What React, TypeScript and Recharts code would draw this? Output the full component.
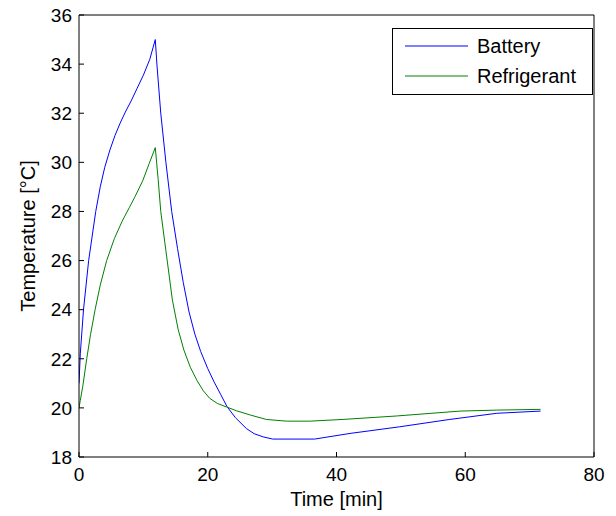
import React from 'react';
import { LineChart, Line, XAxis, YAxis, Legend } from 'recharts';

// Battery and refrigerant temperature
const batteryTime = [0, 0.2, 0.7, 1.5, 2.6, 3.3, 4.0, 4.8, 5.6, 6.4, 7.2, 8.1, 9.0, 10.0, 11.0, 11.85, 12.1, 12.7, 13.5, 14.4, 15.3, 16.2, 17.1, 18.0, 18.9, 20.0, 21.0, 22.0, 23.0, 24.3, 26.0, 27.2, 28.6, 30.1, 36.6, 42.1, 49.8, 57.6, 64.9, 71.7];
const batteryTemp = [21.0, 22.2, 24.0, 26.0, 28.0, 29.0, 29.8, 30.5, 31.1, 31.6, 32.05, 32.5, 33.0, 33.55, 34.2, 35.0, 34.0, 32.0, 30.0, 28.0, 26.5, 25.1, 23.9, 23.0, 22.3, 21.6, 21.05, 20.55, 20.05, 19.6, 19.16, 18.95, 18.82, 18.73, 18.73, 18.96, 19.23, 19.53, 19.78, 19.87];

const refrigerantTime = [0, 0.2, 0.6, 1.2, 1.8, 2.5, 3.3, 4.3, 5.5, 6.7, 7.8, 8.7, 9.9, 10.9, 11.85, 12.3, 12.7, 13.5, 14.5, 15.4, 16.3, 17.3, 18.3, 19.3, 20.3, 21.5, 22.9, 24.5, 26.6, 29.1, 32.2, 35.9, 41.0, 49.3, 59.2, 64.9, 71.7];
const refrigerantTemp = [20.0, 20.3, 20.9, 22.0, 23.0, 24.0, 25.0, 26.0, 26.9, 27.6, 28.15, 28.6, 29.25, 29.95, 30.6, 29.3, 28.0, 26.4, 24.4, 23.2, 22.35, 21.65, 21.13, 20.7, 20.39, 20.18, 20.04, 19.88, 19.71, 19.53, 19.46, 19.46, 19.53, 19.67, 19.87, 19.91, 19.94];

const xTicks = [0, 20, 40, 60, 80];
const yTicks = [18, 20, 22, 24, 26, 28, 30, 32, 34, 36];

const seriesNames = ['Battery', 'Refrigerant'];
const seriesColors = ['#0000ff', '#008000'];

const batteryData = batteryTime.map((t, i) => ({ t, v: batteryTemp[i] }));
const refrigerantData = refrigerantTime.map((t, i) => ({ t, v: refrigerantTemp[i] }));

const FONT = '"Liberation Sans", Arial, Helvetica, sans-serif';
const tickStyle = { fill: '#000', fontSize: 19, fontFamily: FONT };

const YLabel = () => (
  <text
    x={28}
    y={236}
    transform="rotate(-90 28 236)"
    textAnchor="middle"
    dominantBaseline="central"
    fill="#000"
    fontSize={20}
    fontFamily={FONT}
  >
    Temperature [°C]
  </text>
);

const LegendBox = () => (
  <svg width={201} height={67} style={{ display: 'block' }}>
    <rect x={0.5} y={0.5} width={200} height={66} fill="#fff" stroke="#000" />
    {seriesNames.map((name, i) => (
      <g key={name}>
        <line x1={13} x2={76} y1={18 + i * 30} y2={18 + i * 30} stroke={seriesColors[i]} />
        <text x={85} y={18 + i * 30} dominantBaseline="central" fontSize={20} fontFamily={FONT} fill="#000">
          {name}
        </text>
      </g>
    ))}
  </svg>
);

const App: React.FC = () => {
  return (
    <div style={{ position: 'absolute', left: 0, top: 0, background: '#fff' }}>
      <LineChart
        width={616}
        height={516}
        margin={{ top: 14, right: 21, left: 19, bottom: 4 }}
        style={{ fontFamily: FONT }}
      >
        <XAxis
          xAxisId="b"
          dataKey="t"
          type="number"
          domain={[0, 80]}
          ticks={xTicks}
          height={55}
          stroke="#000"
          tick={tickStyle}
          tickSize={-5}
          tickMargin={16}
          allowDataOverflow
          label={{ value: 'Time [min]', position: 'insideBottom', offset: 6, fill: '#000', fontSize: 20, fontFamily: FONT }}
        />
        <XAxis
          xAxisId="top"
          orientation="top"
          dataKey="t"
          type="number"
          domain={[0, 80]}
          ticks={xTicks}
          height={1}
          stroke="#000"
          tick={false}
          tickSize={-5}
          allowDataOverflow
        />
        <YAxis
          yAxisId="l"
          type="number"
          domain={[18, 36]}
          ticks={yTicks}
          width={60}
          stroke="#000"
          tick={tickStyle}
          tickSize={-5}
          tickMargin={12}
          allowDataOverflow
          label={{ content: <YLabel /> }}
        />
        <YAxis
          yAxisId="r"
          orientation="right"
          type="number"
          domain={[18, 36]}
          ticks={yTicks}
          width={1}
          stroke="#000"
          tick={false}
          tickSize={-5}
          allowDataOverflow
        />
        <Legend
          layout="vertical"
          align="center"
          verticalAlign="middle"
          content={<LegendBox />}
          wrapperStyle={{ left: 392, top: 28, width: 201 }}
        />
        <Line
          data={batteryData}
          xAxisId="b"
          yAxisId="l"
          dataKey="v"
          name="Battery"
          stroke={seriesColors[0]}
          strokeWidth={1}
          dot={false}
          type="linear"
          isAnimationActive={false}
        />
        <Line
          data={refrigerantData}
          xAxisId="b"
          yAxisId="l"
          dataKey="v"
          name="Refrigerant"
          stroke={seriesColors[1]}
          strokeWidth={1}
          dot={false}
          type="linear"
          isAnimationActive={false}
        />
        {/* invisible copy so the top/right frame axes get a scale */}
        <Line
          data={refrigerantData}
          xAxisId="top"
          yAxisId="r"
          dataKey="v"
          stroke="none"
          dot={false}
          activeDot={false}
          legendType="none"
          isAnimationActive={false}
        />
      </LineChart>
    </div>
  );
};

export default App;
